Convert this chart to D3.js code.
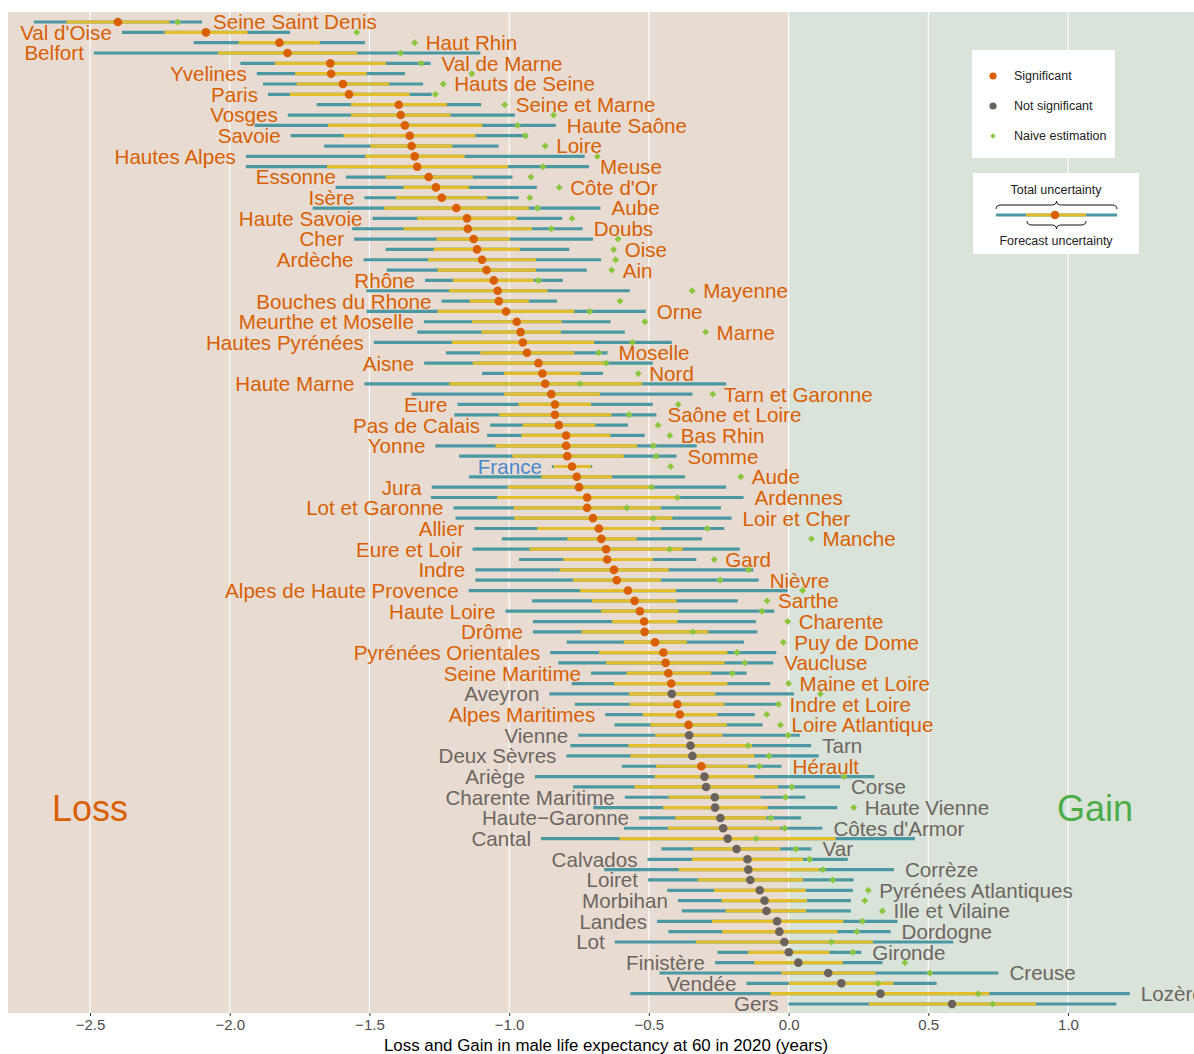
<!DOCTYPE html>
<html>
<head>
<meta charset="utf-8">
<script src="https://cdn.jsdelivr.net/npm/d3@7"></script>
<style>
  body { margin: 0; background: #fff; }
  svg { display: block; font-family: "Liberation Sans", Arial, Helvetica, sans-serif; }
</style>
</head>
<body>
<div id="chart"></div>
<script>
// departments, sorted by estimated loss/gain
var depts = ["Seine Saint Denis","Val d'Oise","Haut Rhin","Belfort","Val de Marne","Yvelines","Hauts de Seine","Paris",
  "Seine et Marne","Vosges","Haute Saône","Savoie","Loire","Hautes Alpes","Meuse","Essonne","Côte d'Or","Isère","Aube",
  "Haute Savoie","Doubs","Cher","Oise","Ardèche","Ain","Rhône","Mayenne","Bouches du Rhone","Orne","Meurthe et Moselle",
  "Marne","Hautes Pyrénées","Moselle","Aisne","Nord","Haute Marne","Tarn et Garonne","Eure","Saône et Loire","Pas de Calais",
  "Bas Rhin","Yonne","Somme","France","Aude","Jura","Ardennes","Lot et Garonne","Loir et Cher","Allier","Manche",
  "Eure et Loir","Gard","Indre","Nièvre","Alpes de Haute Provence","Sarthe","Haute Loire","Charente","Drôme","Puy de Dome",
  "Pyrénées Orientales","Vaucluse","Seine Maritime","Maine et Loire","Aveyron","Indre et Loire","Alpes Maritimes",
  "Loire Atlantique","Vienne","Tarn","Deux Sèvres","Hérault","Ariège","Corse","Charente Maritime","Haute Vienne",
  "Haute\u2212Garonne","Côtes d'Armor","Cantal","Var","Calvados","Corrèze","Loiret","Pyrénées Atlantiques","Morbihan",
  "Ille et Vilaine","Landes","Dordogne","Lot","Gironde","Finistère","Creuse","Vendée","Lozère","Gers"];

var estimate = [-2.400,-2.085,-1.822,-1.793,-1.640,-1.637,-1.595,-1.573,-1.395,-1.388,-1.373,-1.356,-1.349,-1.338,-1.329,
  -1.288,-1.262,-1.241,-1.189,-1.151,-1.148,-1.127,-1.115,-1.097,-1.081,-1.055,-1.041,-1.037,-1.011,-0.973,-0.959,-0.951,
  -0.936,-0.895,-0.881,-0.871,-0.849,-0.836,-0.836,-0.822,-0.796,-0.796,-0.792,-0.775,-0.758,-0.750,-0.721,-0.721,-0.700,
  -0.679,-0.670,-0.653,-0.649,-0.625,-0.615,-0.575,-0.551,-0.532,-0.517,-0.515,-0.478,-0.448,-0.440,-0.430,-0.420,-0.418,
  -0.398,-0.389,-0.358,-0.356,-0.351,-0.344,-0.312,-0.301,-0.295,-0.264,-0.263,-0.244,-0.234,-0.218,-0.186,-0.147,-0.144,
  -0.137,-0.103,-0.086,-0.079,-0.041,-0.033,-0.015,0.001,0.035,0.142,0.189,0.329,0.585];

var forecastLo = [-2.585,-2.233,-1.968,-2.042,-1.838,-1.766,-1.760,-1.785,-1.566,-1.566,-1.648,-1.593,-1.497,-1.515,-1.652,
  -1.442,-1.378,-1.405,-1.447,-1.329,-1.378,-1.260,-1.270,-1.290,-1.256,-1.201,-1.215,-1.141,-1.256,-1.133,-1.099,-1.205,
  -1.103,-1.130,-1.018,-1.214,-1.018,-0.966,-1.036,-0.952,-0.956,-1.049,-0.988,-0.841,-0.884,-1.005,-1.043,-0.984,-0.982,
  -0.899,-0.792,-0.927,-0.806,-0.819,-0.771,-0.747,-0.703,-0.671,-0.631,-0.741,-0.590,-0.678,-0.653,-0.580,-0.624,-0.571,
  -0.569,-0.522,-0.495,-0.477,-0.573,-0.566,-0.474,-0.479,-0.552,-0.429,-0.449,-0.405,-0.432,-0.605,-0.342,-0.345,-0.393,
  -0.325,-0.267,-0.240,-0.225,-0.274,-0.238,-0.332,-0.144,-0.123,-0.026,0.001,-0.065,0.288];

var forecastHi = [-2.215,-1.936,-1.678,-1.544,-1.441,-1.510,-1.429,-1.356,-1.223,-1.210,-1.096,-1.121,-1.203,-1.159,-1.004,
  -1.130,-1.144,-1.079,-0.929,-0.973,-0.919,-0.997,-0.962,-0.904,-0.904,-0.911,-0.863,-0.929,-0.767,-0.812,-0.815,-0.696,
  -0.767,-0.651,-0.744,-0.525,-0.675,-0.707,-0.634,-0.692,-0.638,-0.542,-0.590,-0.707,-0.632,-0.490,-0.398,-0.457,-0.416,
  -0.457,-0.544,-0.379,-0.486,-0.429,-0.457,-0.403,-0.401,-0.394,-0.398,-0.287,-0.364,-0.219,-0.229,-0.277,-0.219,-0.262,
  -0.229,-0.255,-0.221,-0.237,-0.130,-0.123,-0.145,-0.123,-0.038,-0.100,-0.075,-0.079,-0.030,0.168,-0.030,0.052,0.110,
  0.052,0.062,0.066,0.063,0.196,0.175,0.302,0.147,0.194,0.311,0.375,0.719,0.885];

var totalLo = [-2.701,-2.386,-2.129,-2.486,-1.962,-1.903,-1.881,-1.863,-1.689,-1.792,-1.911,-1.782,-1.662,-1.942,-1.942,
  -1.584,-1.621,-1.518,-1.703,-1.489,-1.562,-1.555,-1.442,-1.521,-1.438,-1.301,-1.511,-1.242,-1.510,-1.305,-1.329,-1.484,
  -1.226,-1.304,-1.097,-1.518,-1.349,-1.185,-1.196,-1.068,-1.079,-1.264,-1.179,-0.847,-1.144,-1.277,-1.280,-1.199,-1.192,
  -1.124,-1.026,-1.131,-0.965,-1.121,-1.121,-1.145,-0.918,-1.013,-0.915,-0.915,-0.794,-0.853,-0.824,-0.707,-0.776,-0.856,
  -0.765,-0.656,-0.623,-0.753,-0.781,-0.795,-0.597,-0.908,-0.771,-0.586,-0.699,-0.535,-0.589,-0.886,-0.455,-0.505,-0.660,
  -0.503,-0.434,-0.396,-0.382,-0.471,-0.430,-0.622,-0.254,-0.263,-0.462,-0.151,-0.566,0.000];

var totalHi = [-2.099,-1.784,-1.516,-1.103,-1.281,-1.373,-1.308,-1.277,-1.100,-0.979,-0.833,-0.933,-1.038,-0.730,-0.714,
  -0.988,-0.901,-0.966,-0.673,-0.810,-0.737,-0.700,-0.785,-0.671,-0.722,-0.808,-0.568,-0.829,-0.511,-0.637,-0.586,-0.418,
  -0.648,-0.486,-0.664,-0.223,-0.344,-0.486,-0.473,-0.575,-0.515,-0.329,-0.401,-0.703,-0.371,-0.223,-0.161,-0.242,-0.204,
  -0.230,-0.310,-0.175,-0.330,-0.126,-0.107,-0.003,-0.182,-0.051,-0.117,-0.112,-0.160,-0.044,-0.055,-0.150,-0.066,0.019,
  -0.036,-0.121,-0.093,0.040,0.081,0.108,-0.025,0.307,0.184,0.060,0.174,0.045,0.121,0.452,0.082,0.212,0.377,
  0.233,0.230,0.223,0.223,0.390,0.365,0.589,0.260,0.336,0.751,0.530,1.221,1.173];

var naive = [-2.186,-1.545,-1.338,-1.389,-1.315,-1.134,-1.236,-1.264,-1.016,-0.841,-0.970,-0.942,-0.871,-0.684,-0.879,
  -0.922,-0.821,-0.926,-0.899,-0.775,-0.849,-0.610,-0.626,-0.619,-0.633,-0.895,-0.345,-0.603,-0.712,-0.514,-0.297,-0.559,
  -0.679,-0.653,-0.538,-0.747,-0.271,-0.395,-0.571,-0.467,-0.425,-0.484,-0.474,-0.422,-0.171,-0.490,-0.398,-0.579,-0.484,
  -0.291,0.082,-0.426,-0.266,-0.143,-0.245,0.050,-0.077,-0.095,-0.003,-0.343,-0.019,-0.185,-0.157,-0.201,0.000,0.114,
  -0.036,-0.078,-0.029,-0.001,-0.145,-0.070,-0.104,0.199,0.012,-0.011,0.233,-0.063,-0.014,-0.116,0.026,0.075,0.123,
  0.158,0.285,0.273,0.336,0.264,0.244,0.154,0.230,0.416,0.506,0.320,0.679,0.730];

var xTicks = [-2.5, -2.0, -1.5, -1.0, -0.5, 0.0, 0.5, 1.0];
var axisTitle = "Loss and Gain in male life expectancy at 60 in 2020 (years)";

var width = 1194, height = 1054;
var panel = { left: 8, right: 1194, top: 12, bottom: 1013 };

var col = {
  loss: "#e8dcd2", gain: "#dae3d9", orange: "#d95f02", grey: "#6a625d", greyText: "#6d6661",
  teal: "#4b98a3", yellow: "#e4bd2b", naive: "#8cc63f", france: "#4a87cc", gainText: "#4dac4a"
};

var rows = depts.map(function(d, i) {
  return { name: d, i: i, est: estimate[i], fLo: forecastLo[i], fHi: forecastHi[i],
           tLo: totalLo[i], tHi: totalHi[i], naive: naive[i],
           sig: totalHi[i] < 0 || totalLo[i] > 0 };
});

var x = d3.scaleLinear().domain([-2.5, 1.0]).range([90, 1068]);
var y = d3.scalePoint().domain(depts).range([22, 1004]);

var svg = d3.select("#chart").append("svg")
  .attr("width", width).attr("height", height)
  .attr("viewBox", [0, 0, width, height]);

// background halves
svg.append("rect").attr("x", panel.left).attr("y", panel.top)
  .attr("width", x(0) - panel.left).attr("height", panel.bottom - panel.top).attr("fill", col.loss);
svg.append("rect").attr("x", x(0)).attr("y", panel.top)
  .attr("width", panel.right - x(0)).attr("height", panel.bottom - panel.top).attr("fill", col.gain);

// grid
svg.append("g").selectAll("line").data(xTicks).enter().append("line")
  .attr("x1", d => x(d)).attr("x2", d => x(d))
  .attr("y1", panel.top).attr("y2", panel.bottom)
  .attr("stroke", "#fff").attr("stroke-width", 1.1);

// Loss / Gain
svg.append("text").attr("x", 90).attr("y", 808).attr("dy", "0.35em")
  .attr("text-anchor", "middle").attr("font-size", "36px").attr("fill", col.orange).text("Loss");
svg.append("text").attr("x", 1095).attr("y", 808).attr("dy", "0.35em")
  .attr("text-anchor", "middle").attr("font-size", "36px").attr("fill", col.gainText).text("Gain");

var g = svg.append("g");

// total uncertainty
g.selectAll(".total").data(rows).enter().append("line")
  .attr("class", "total")
  .attr("x1", d => x(d.tLo)).attr("x2", d => x(d.tHi))
  .attr("y1", d => y(d.name)).attr("y2", d => y(d.name))
  .attr("stroke", col.teal).attr("stroke-width", 3.2);

// forecast uncertainty
g.selectAll(".fore").data(rows).enter().append("line")
  .attr("class", "fore")
  .attr("x1", d => x(d.fLo)).attr("x2", d => x(d.fHi))
  .attr("y1", d => y(d.name)).attr("y2", d => y(d.name))
  .attr("stroke", col.yellow).attr("stroke-width", 3.2);

// naive estimation
var diamond = d3.symbol().type(d3.symbolSquare).size(24);
g.selectAll(".naive").data(rows).enter().append("path")
  .attr("class", "naive")
  .attr("d", diamond)
  .attr("transform", d => "translate(" + x(d.naive) + "," + y(d.name) + ") rotate(45)")
  .attr("fill", col.naive);

// point estimates
g.selectAll(".est").data(rows).enter().append("circle")
  .attr("class", "est")
  .attr("cx", d => x(d.est)).attr("cy", d => y(d.name)).attr("r", 4.3)
  .attr("fill", d => d.sig ? col.orange : col.grey);

// labels, alternating right / left
g.selectAll(".lab").data(rows).enter().append("text")
  .attr("class", "lab")
  .attr("x", d => d.i % 2 === 0 ? x(Math.max(d.tHi, d.naive)) + 11 : x(d.tLo) - 10)
  .attr("y", d => y(d.name)).attr("dy", "0.36em")
  .attr("text-anchor", d => d.i % 2 === 0 ? "start" : "end")
  .attr("font-size", "20.6px")
  .attr("fill", d => d.name === "France" ? col.france : (d.sig ? col.orange : col.greyText))
  .text(d => d.name);

// x axis
var axis = svg.append("g").attr("transform", "translate(0," + panel.bottom + ")")
  .call(d3.axisBottom(x).tickValues(xTicks).tickSize(3).tickPadding(3)
    .tickFormat(d => d3.format(".1f")(d).replace("-", "\u2212")));
axis.select(".domain").remove();
axis.selectAll("line").attr("stroke", "#333");
axis.selectAll("text").attr("fill", "#4d4d4d").attr("font-size", "15px")
  .attr("font-family", "Liberation Sans, Arial, sans-serif");

svg.append("text").attr("x", 606).attr("y", 1051)
  .attr("text-anchor", "middle").attr("font-size", "16.9px").attr("fill", "#000").text(axisTitle);

// legend 1
var leg = svg.append("g");
leg.append("rect").attr("x", 972).attr("y", 50).attr("width", 143).attr("height", 108).attr("fill", "#fff");
var legItems = [["Significant", col.orange, "dot"], ["Not significant", col.grey, "dot"], ["Naive estimation", col.naive, "dia"]];
legItems.forEach(function(it, k) {
  var cy = 76 + k * 30;
  if (it[2] === "dot") {
    leg.append("circle").attr("cx", 993).attr("cy", cy).attr("r", 3.6).attr("fill", it[1]);
  } else {
    leg.append("path").attr("d", d3.symbol().type(d3.symbolSquare).size(14))
      .attr("transform", "translate(993," + cy + ") rotate(45)").attr("fill", it[1]);
  }
  leg.append("text").attr("x", 1014).attr("y", cy).attr("dy", "0.35em")
    .attr("font-size", "12.5px").attr("fill", "#222").text(it[0]);
});

// legend 2
leg.append("rect").attr("x", 973).attr("y", 173).attr("width", 166).attr("height", 81).attr("fill", "#fff");
leg.append("text").attr("x", 1056).attr("y", 190).attr("dy", "0.35em").attr("text-anchor", "middle")
  .attr("font-size", "12.5px").attr("fill", "#222").text("Total uncertainty");
leg.append("text").attr("x", 1056).attr("y", 241).attr("dy", "0.35em").attr("text-anchor", "middle")
  .attr("font-size", "12.5px").attr("fill", "#222").text("Forecast uncertainty");
leg.append("line").attr("x1", 996).attr("x2", 1117).attr("y1", 215).attr("y2", 215)
  .attr("stroke", col.teal).attr("stroke-width", 3.2);
leg.append("line").attr("x1", 1026).attr("x2", 1086).attr("y1", 215).attr("y2", 215)
  .attr("stroke", col.yellow).attr("stroke-width", 3.2);
leg.append("circle").attr("cx", 1055).attr("cy", 215).attr("r", 4.3).attr("fill", col.orange);

function brace(x1, x2, yb, dir) {
  var m = (x1 + x2) / 2, h = 4 * dir;
  return "M" + x1 + "," + yb + " Q" + x1 + "," + (yb - h) + " " + (x1 + 5) + "," + (yb - h) +
    " L" + (m - 5) + "," + (yb - h) + " Q" + m + "," + (yb - h) + " " + m + "," + (yb - 2 * h) +
    " Q" + m + "," + (yb - h) + " " + (m + 5) + "," + (yb - h) +
    " L" + (x2 - 5) + "," + (yb - h) + " Q" + x2 + "," + (yb - h) + " " + x2 + "," + yb;
}
leg.append("path").attr("d", brace(996, 1117, 209, 1)).attr("fill", "none").attr("stroke", "#111").attr("stroke-width", 1);
leg.append("path").attr("d", brace(1027, 1086, 221, -1)).attr("fill", "none").attr("stroke", "#111").attr("stroke-width", 1);
</script>
</body>
</html>
